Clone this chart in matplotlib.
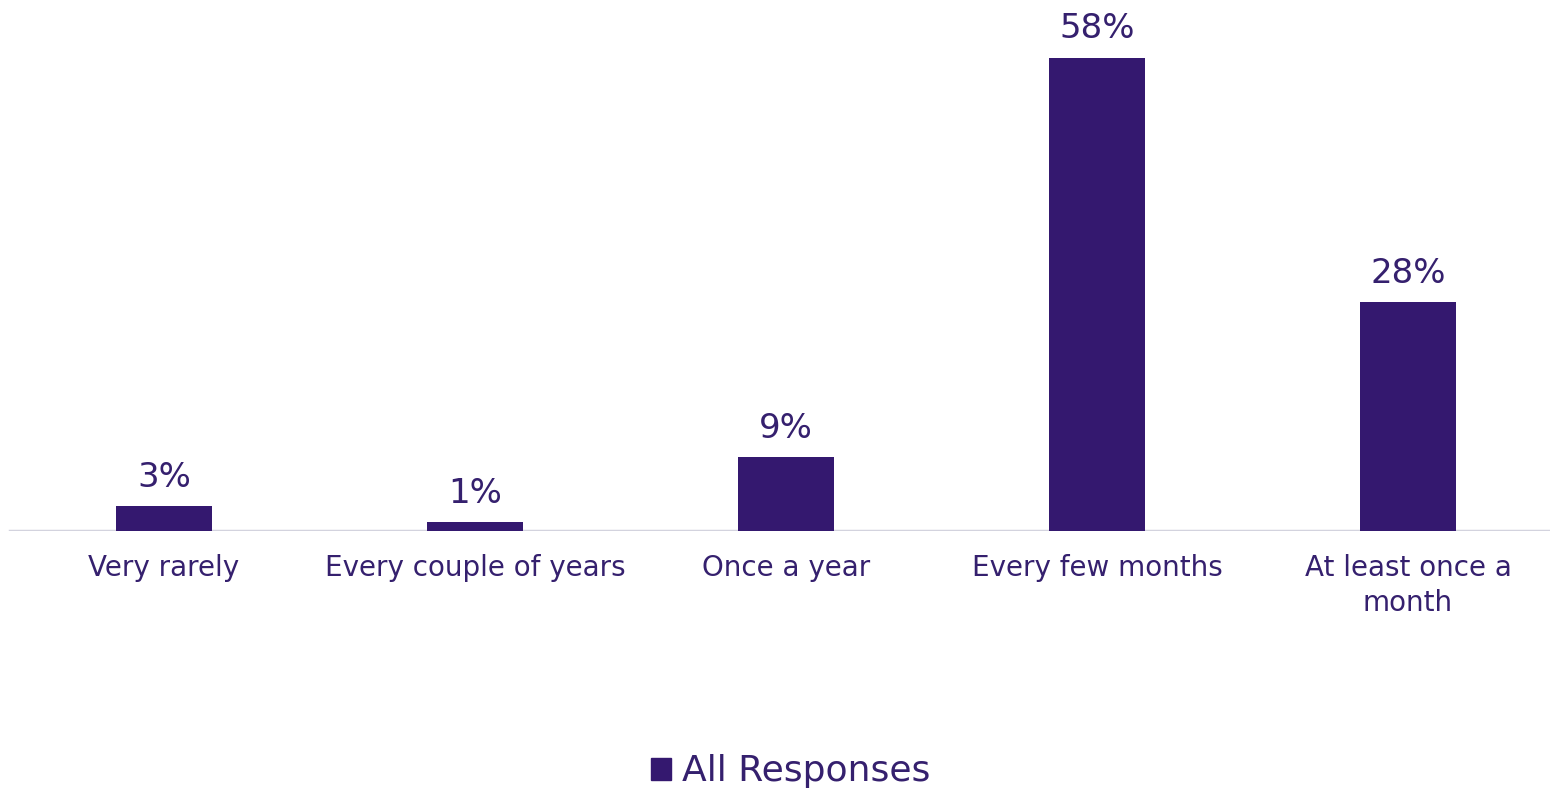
import matplotlib
matplotlib.use("Agg")
import matplotlib.pyplot as plt
from matplotlib.patches import Patch

categories = ["Very rarely", "Every couple of years", "Once a year", "Every few months", "At least once a\nmonth"]
values = [3, 1, 9, 58, 28]
series_name = "All Responses"

BAR = "#34186F"
TXT = "#35206E"
plt.rcParams['font.family'] = ['DejaVu Sans']

W, H = 1550, 794
fig = plt.figure(figsize=(W/100, H/100), dpi=100)
base = (794 - 530.5) / 794
ax = fig.add_axes([0, base, 1, 1 - base])
x = list(range(len(categories)))
ax.bar(x, values, width=0.31, color=BAR, zorder=3)
ax.set_xlim(-164/311, (1550-164)/311)
ax.set_ylim(0, 530.5/8.15)
for xi, v in zip(x, values):
    ax.annotate(f"{v}%", (xi, v), xytext=(0, 9), textcoords="offset points",
                ha="center", va="bottom", fontsize=24.5, color=TXT)
for s in ax.spines.values():
    s.set_visible(False)
ax.axhline(0, xmin=10/1550, xmax=1, color="#D3D3DE", lw=2.5, zorder=2)
ax.set_yticks([])
ax.set_xticks(x)
ax.set_xticklabels(categories, fontsize=20, color=TXT, linespacing=1.3)
ax.tick_params(axis='x', length=0, pad=17)
fig.legend(handles=[Patch(color=BAR, label=series_name)], loc="lower center",
           bbox_to_anchor=(0.51, -0.034), frameon=False, fontsize=26,
           handlelength=0.55, handleheight=0.55, handletextpad=0.3, labelcolor=TXT)
fig.savefig("out.png", dpi=100)
